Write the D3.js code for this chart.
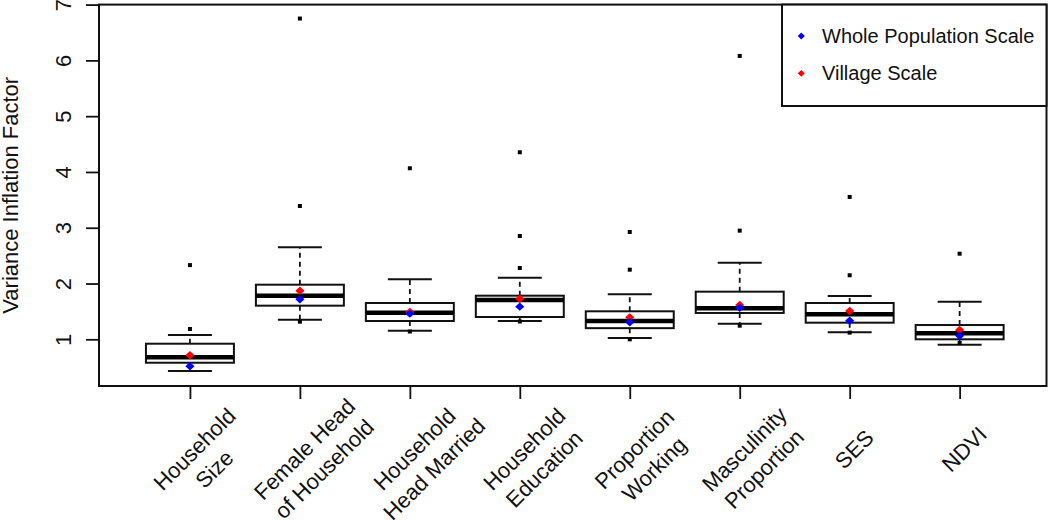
<!DOCTYPE html>
<html>
<head>
<meta charset="utf-8">
<script src="https://cdn.jsdelivr.net/npm/d3@7/dist/d3.min.js"></script>
<style>
  html, body { margin: 0; padding: 0; background: #fff; }
  svg { display: block; }
  text { font-family: "Liberation Sans", Arial, sans-serif; fill: #111; }
</style>
</head>
<body>
<div id="chart"></div>
<script>
// ---------- data ----------
const categories = [
  "Household\nSize",
  "Female Head\nof Household",
  "Household\nHead Married",
  "Household\nEducation",
  "Proportion\nWorking",
  "Masculinity\nProportion",
  "SES",
  "NDVI"
];
const lowerWhisker = [0.431, 1.351, 1.155, 1.328, 1.023, 1.280, 1.125, 0.903];
const q1           = [0.580, 1.603, 1.328, 1.400, 1.200, 1.472, 1.298, 1.000];
const median       = [0.677, 1.782, 1.477, 1.705, 1.328, 1.556, 1.448, 1.107];
const q3           = [0.921, 1.979, 1.651, 1.782, 1.502, 1.854, 1.651, 1.256];
const upperWhisker = [1.077, 2.650, 2.076, 2.105, 1.807, 2.374, 1.776, 1.675];
const outliers = [
  [2.33, 1.185],
  [6.75, 3.39, 1.316],
  [4.066, 1.14],
  [4.353, 2.852, 2.278, 1.32],
  [2.924, 2.248, 1.0],
  [6.08, 2.948, 1.244],
  [3.552, 2.148, 1.12],
  [2.535, 0.934]
];
const wholePopulation = [0.516, 1.717, 1.46, 1.585, 1.305, 1.567, 1.334, 1.065];
const villageScale    = [0.713, 1.870, 1.49, 1.728, 1.394, 1.615, 1.507, 1.167];
const yTicks = [1, 2, 3, 4, 5, 6, 7];
const legendLabels = ["Whole Population Scale", "Village Scale"];
const yLabel = "Variance Inflation Factor";

// ---------- layout ----------
const W = 1050, H = 520;
const plot = { left: 99, right: 1046.5, top: 4.6, bottom: 386 };

const svg = d3.select("#chart").append("svg")
  .attr("width", W).attr("height", H);

const x = d3.scaleLinear().domain([0.173, 8.79]).range([plot.left, plot.right]);
const y = d3.scaleLinear().domain([0.163, 7.0]).range([plot.bottom, plot.top]);

const boxW = 0.8, capW = 0.4;

// ---------- boxes ----------
const g = svg.append("g");
categories.forEach((c, i) => {
  const cx = x(i + 1);
  const bx0 = x(i + 1 - boxW / 2), bx1 = x(i + 1 + boxW / 2);
  const cx0 = x(i + 1 - capW / 2), cx1 = x(i + 1 + capW / 2);
  // whiskers (dashed)
  g.append("line").attr("x1", cx).attr("x2", cx)
    .attr("y1", y(q3[i])).attr("y2", y(upperWhisker[i]))
    .attr("stroke", "#111").attr("stroke-width", 1.8).attr("stroke-dasharray", "5,4");
  g.append("line").attr("x1", cx).attr("x2", cx)
    .attr("y1", y(q1[i])).attr("y2", y(lowerWhisker[i]))
    .attr("stroke", "#111").attr("stroke-width", 1.8).attr("stroke-dasharray", "5,4");
  // caps
  [upperWhisker[i], lowerWhisker[i]].forEach(v => {
    g.append("line").attr("x1", cx0).attr("x2", cx1)
      .attr("y1", y(v)).attr("y2", y(v))
      .attr("stroke", "#111").attr("stroke-width", 2);
  });
  // box
  g.append("rect").attr("x", bx0).attr("y", y(q3[i]))
    .attr("width", bx1 - bx0).attr("height", y(q1[i]) - y(q3[i]))
    .attr("fill", "#fff").attr("stroke", "#111").attr("stroke-width", 2);
  // median
  g.append("line").attr("x1", bx0).attr("x2", bx1)
    .attr("y1", y(median[i])).attr("y2", y(median[i]))
    .attr("stroke", "#000").attr("stroke-width", 4.5);
  // outliers
  outliers[i].forEach(v => {
    g.append("rect").attr("x", cx - 2).attr("y", y(v) - 2)
      .attr("width", 4).attr("height", 4).attr("fill", "#000");
  });
});

// diamonds
function diamond(px, py, hw, hh) {
  return `M${px},${py - hh}L${px + hw},${py}L${px},${py + hh}L${px - hw},${py}Z`;
}
villageScale.forEach((v, i) => {
  g.append("path").attr("d", diamond(x(i + 1), y(v), 4.6, 4.2)).attr("fill", "#ff0000");
});
wholePopulation.forEach((v, i) => {
  g.append("path").attr("d", diamond(x(i + 1), y(v), 4.6, 4.2)).attr("fill", "#0000ff");
});

// ---------- frame ----------
svg.append("rect").attr("x", plot.left).attr("y", plot.top)
  .attr("width", plot.right - plot.left).attr("height", plot.bottom - plot.top)
  .attr("fill", "none").attr("stroke", "#111").attr("stroke-width", 2);

// ---------- y axis ----------
const yAxis = svg.append("g").attr("transform", `translate(${plot.left},0)`)
  .call(d3.axisLeft(y).tickValues(yTicks).tickSize(13).tickFormat(d3.format("d")));
yAxis.select(".domain").remove();
yAxis.selectAll(".tick line").attr("stroke", "#111").attr("stroke-width", 1.8);
yAxis.selectAll(".tick text")
  .attr("x", null).attr("dy", null)
  .attr("transform", "translate(-28,0) rotate(-90)")
  .attr("text-anchor", "middle")
  .style("font-size", "22px")
  .style("font-family", '"Liberation Sans", Arial, sans-serif')
  .attr("fill", "#111");

svg.append("text")
  .attr("transform", `translate(18,${(plot.top + plot.bottom) / 2}) rotate(-90)`)
  .attr("text-anchor", "middle")
  .style("font-size", "22px")
  .text(yLabel);

// ---------- x axis ----------
const xAxis = svg.append("g").attr("transform", `translate(0,${plot.bottom})`)
  .call(d3.axisBottom(x).tickValues(d3.range(1, categories.length + 1)).tickSize(13).tickFormat(""));
xAxis.select(".domain").remove();
xAxis.selectAll(".tick line").attr("stroke", "#111").attr("stroke-width", 1.8);

categories.forEach((c, i) => {
  const lg = svg.append("g")
    .attr("transform", `translate(${x(i + 1) + 10},454.6) rotate(-45)`);
  c.split("\n").forEach((line, j) => {
    lg.append("text").attr("x", 0).attr("y", j * 28)
      .attr("text-anchor", "middle")
      .style("font-size", "22px")
      .text(line);
  });
});

// ---------- legend ----------
const leg = svg.append("g");
leg.append("rect").attr("x", 782).attr("y", plot.top)
  .attr("width", plot.right - 782).attr("height", 106 - plot.top)
  .attr("fill", "#fff").attr("stroke", "#111").attr("stroke-width", 2);
const legColors = ["#0000ff", "#ff0000"];
const legY = [36, 73.3];
legendLabels.forEach((t, k) => {
  leg.append("path").attr("d", diamond(801.3, legY[k], 3.6, 3.4)).attr("fill", legColors[k]);
  leg.append("text").attr("x", 822).attr("y", legY[k] + 6.8)
    .style("font-size", "20px").text(t);
});
</script>
</body>
</html>
